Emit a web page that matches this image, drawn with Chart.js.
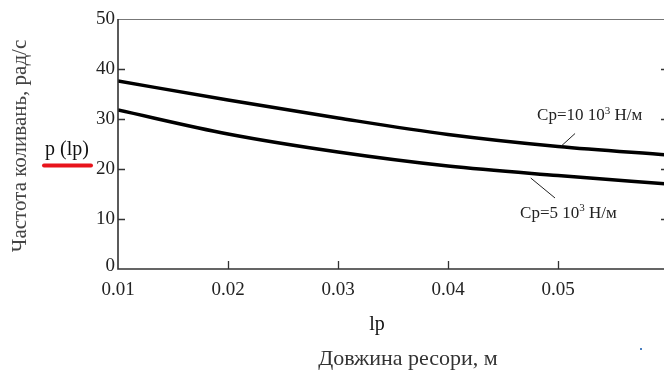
<!DOCTYPE html>
<html>
<head>
<meta charset="utf-8">
<script src="https://cdn.jsdelivr.net/npm/chart.js@4"></script>
<style>
  html, body { margin: 0; padding: 0; background: #fff; overflow: hidden; }
  #wrap { width: 672px; height: 370px; }
</style>
</head>
<body>
<div id="wrap"><canvas id="freq_chart" width="672" height="370"></canvas></div>
<script>
// spring length, m
const lp = [0.01, 0.02, 0.03, 0.04, 0.05, 0.06];
// natural frequency, rad/s
const pCp10 = [37.6, 33.8, 30.2, 26.9, 24.5, 22.8];
const pCp5 = [31.8, 27.0, 23.4, 20.6, 18.7, 17.0];

const xTicks = [0.01, 0.02, 0.03, 0.04, 0.05];
const xTickLabels = ["0.01", "0.02", "0.03", "0.04", "0.05"];
const yTicks = [0, 10, 20, 30, 40, 50];
const yTickLabels = ["0", "10", "20", "30", "40", "50"];

const serif = "'Liberation Serif', 'Times New Roman', serif";

function pts(ys) {
    return lp.map((x, i) => ({x: x, y: ys[i]}));
}

// text with a raised "3" in the middle
function supText(ctx, x, y, before, sup, after, size) {
    ctx.font = size + "px " + serif;
    ctx.fillText(before, x, y);
    let w = ctx.measureText(before).width;
    ctx.font = Math.round(size * 0.62) + "px " + serif;
    ctx.fillText(sup, x + w, y - size * 0.38);
    w += ctx.measureText(sup).width;
    ctx.font = size + "px " + serif;
    ctx.fillText(after, x + w, y);
}

// frame, inward ticks, tick labels and captions
const mcadAxes = {
    id: "mcadAxes",
    afterDraw(chart) {
        const ctx = chart.ctx;
        const xs = chart.scales.x, ys = chart.scales.y;
        const a = chart.chartArea;
        ctx.save();

        // frame
        ctx.strokeStyle = "#777";
        ctx.lineWidth = 1;
        ctx.beginPath();
        ctx.moveTo(a.left, a.top + 0.5);
        ctx.lineTo(a.right, a.top + 0.5);
        ctx.lineTo(a.right, a.bottom);
        ctx.stroke();
        ctx.strokeStyle = "#333";
        ctx.lineWidth = 1.6;
        ctx.beginPath();
        ctx.moveTo(a.left, a.top);
        ctx.lineTo(a.left, a.bottom);
        ctx.lineTo(a.right, a.bottom);
        ctx.stroke();

        // ticks
        ctx.lineWidth = 1.3;
        ctx.strokeStyle = "#333";
        ctx.beginPath();
        yTicks.forEach(v => {
            if (v == 0 || v == 50) return;
            const py = Math.round(ys.getPixelForValue(v)) + 0.5;
            ctx.moveTo(a.left, py); ctx.lineTo(a.left + 7, py);
            ctx.moveTo(a.right, py); ctx.lineTo(a.right - 7, py);
        });
        xTicks.forEach((v, i) => {
            if (i == 0) return;
            const px = Math.round(xs.getPixelForValue(v)) + 0.5;
            ctx.moveTo(px, a.bottom); ctx.lineTo(px, a.bottom - 8);
        });
        ctx.stroke();

        // tick labels
        ctx.fillStyle = "#222";
        ctx.font = "19px " + serif;
        ctx.textAlign = "right";
        ctx.textBaseline = "middle";
        yTicks.forEach((v, i) => {
            let py = ys.getPixelForValue(v);
            if (v == 0) py -= 3;
            ctx.fillText(yTickLabels[i], a.left - 3, py);
        });
        ctx.textAlign = "center";
        ctx.textBaseline = "top";
        xTicks.forEach((v, i) => {
            ctx.fillText(xTickLabels[i], xs.getPixelForValue(v), a.bottom + 12);
        });

        // axis names
        ctx.fillStyle = "#111";
        ctx.font = "20px " + serif;
        ctx.textBaseline = "alphabetic";
        ctx.fillText("lp", 377, 330);
        ctx.fillStyle = "#333";
        ctx.font = "22px " + serif;
        ctx.fillText("Довжина ресори, м", 408, 365);

        ctx.save();
        ctx.translate(26, 146);
        ctx.rotate(-Math.PI / 2);
        ctx.fillStyle = "#444";
        ctx.font = "21px " + serif;
        ctx.fillText("Частота коливань, рад/с", 0, 0);
        ctx.restore();

        ctx.fillStyle = "#111";
        ctx.font = "20px " + serif;
        ctx.textAlign = "center";
        ctx.fillText("p (lp)", 67, 155);
        ctx.strokeStyle = "#e8141c";
        ctx.lineWidth = 4;
        ctx.lineCap = "round";
        ctx.beginPath();
        ctx.moveTo(44, 165.5); ctx.lineTo(91, 165.5);
        ctx.stroke();

        // curve captions with leader lines
        ctx.lineCap = "butt";
        ctx.strokeStyle = "#222";
        ctx.lineWidth = 1;
        ctx.beginPath();
        ctx.moveTo(xs.getPixelForValue(0.05155), ys.getPixelForValue(27.1));
        ctx.lineTo(xs.getPixelForValue(0.05025), ys.getPixelForValue(24.5));
        ctx.moveTo(xs.getPixelForValue(0.04752), ys.getPixelForValue(18.2));
        ctx.lineTo(xs.getPixelForValue(0.04973), ys.getPixelForValue(14.2));
        ctx.stroke();

        ctx.fillStyle = "#222";
        ctx.textAlign = "left";
        supText(ctx, xs.getPixelForValue(0.0481), ys.getPixelForValue(29.8), "Cp=10 10", "3", " Н/м", 17);
        supText(ctx, xs.getPixelForValue(0.04655), ys.getPixelForValue(10.3), "Cp=5 10", "3", " Н/м", 17);

        // stray dot
        ctx.fillStyle = "#4a7fc0";
        ctx.fillRect(640, 348, 2, 2);

        ctx.restore();
    }
};

new Chart(document.getElementById("freq_chart"), {
    type: "line",
    data: {
        datasets: [
            {label: "Cp=10", data: pts(pCp10)},
            {label: "Cp=5", data: pts(pCp5)}
        ]
    },
    options: {
        responsive: false,
        animation: false,
        layout: {padding: {left: 118, right: 4, top: 19, bottom: 101}},
        elements: {
            point: {radius: 0},
            line: {borderColor: "#000", borderWidth: 3.5, cubicInterpolationMode: "monotone"}
        },
        scales: {
            x: {type: "linear", min: 0.01, max: 0.06, display: false},
            y: {min: 0, max: 50, display: false}
        },
        plugins: {legend: {display: false}, tooltip: {enabled: false}}
    },
    plugins: [mcadAxes]
});
</script>
</body>
</html>
